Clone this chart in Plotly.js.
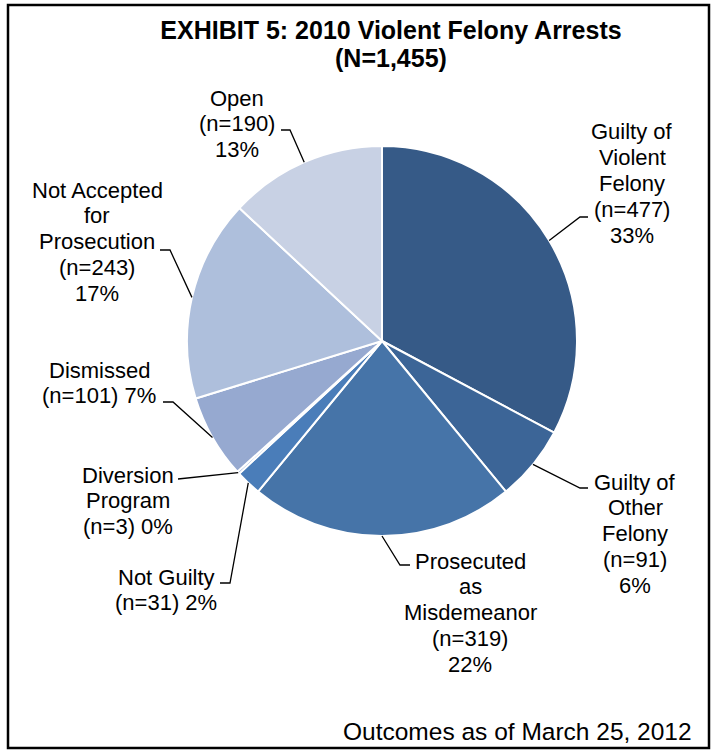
<!DOCTYPE html>
<html>
<head>
<meta charset="utf-8">
<script src="https://cdn.plot.ly/plotly-3.0.1.min.js"></script>
<style>html,body{margin:0;padding:0;background:#fff;}#chart{width:713px;height:750px;}</style>
</head>
<body>
<div id="chart"></div>
<script>
// ---- data ----
const categories = ["Guilty of Violent Felony","Guilty of Other Felony","Prosecuted as Misdemeanor","Not Guilty","Diversion Program","Dismissed","Not Accepted for Prosecution","Open"];
const values = [477, 91, 319, 31, 3, 101, 243, 190];
const nameLines = [["Guilty of","Violent","Felony"],["Guilty of","Other","Felony"],["Prosecuted","as","Misdemeanor"],["Not Guilty"],["Diversion","Program"],["Dismissed"],["Not Accepted","for","Prosecution"],["Open"]];
const joinCountPct = [false,false,false,true,true,true,false,false];
const colors = ["#365A87","#3C6597","#4674A8","#4A7DB9","#7E97C8","#96A9D0","#AEBFDC","#C8D1E4"];
const titleLine1 = "EXHIBIT 5: 2010 Violent Felony Arrests";
const titleLine2 = "(N=1,455)";
const footer = "Outcomes as of March 25, 2012";

// ---- layout constants (pixels) ----
const W = 713, H = 750;
const pieCx = 382, pieCy = 341, pieR = 195;
const labelPos = [[632,132],[635,482],[470,561],[166,577],[128,475],[99,370],[97,190],[237,98]];
const lineGap = 25.8;
const elbows = [
  [[580,217],[588,217]],
  [[580,488],[588,488]],
  [[400,565],[410,565]],
  [[230,583],[220,583]],
  [[178,479]],
  [[173,402],[163,402]],
  [[170,250],[160,250]],
  [[290,130],[281,130]]
];

const px = (x) => x / W;
const py = (y) => 1 - y / H;
const total = values.reduce((a,b)=>a+b,0);
const font = "Liberation Sans, Arial, Helvetica, sans-serif";

const annotations = [];
const shapes = [];

// labels
let cum = 0;
values.forEach((v, i) => {
  const pct = Math.round(v / total * 100);
  const lines = nameLines[i].slice();
  if (joinCountPct[i]) lines.push("(n=" + v + ") " + pct + "%");
  else { lines.push("(n=" + v + ")"); lines.push(pct + "%"); }
  lines.forEach((t, k) => {
    annotations.push({
      text: t, xref: "paper", yref: "paper",
      x: px(labelPos[i][0]), y: py(labelPos[i][1] + k * lineGap),
      xanchor: "center", yanchor: "middle", showarrow: false,
      font: {family: font, size: 22, color: "#000"}
    });
  });
  // leader line from slice edge at mid-angle
  const mid = (cum + v / 2) / total * 2 * Math.PI;
  cum += v;
  const ex = pieCx + pieR * Math.sin(mid);
  const ey = pieCy - pieR * Math.cos(mid);
  let path = "M " + px(ex) + " " + py(ey);
  elbows[i].forEach(p => { path += " L " + px(p[0]) + " " + py(p[1]); });
  shapes.push({type: "path", xref: "paper", yref: "paper", path: path, line: {color: "#000", width: 1.3}});
});

// title line 2 and footer
annotations.push({text: "<b>" + titleLine2 + "</b>", xref: "paper", yref: "paper", x: px(391), y: py(58),
  xanchor: "center", yanchor: "middle", showarrow: false, font: {family: font, size: 25, color: "#000"}});
annotations.push({text: footer, xref: "paper", yref: "paper", x: px(517), y: py(731),
  xanchor: "center", yanchor: "middle", showarrow: false, font: {family: font, size: 24.5, color: "#000"}});

// border
shapes.push({type: "rect", xref: "paper", yref: "paper", x0: px(8), x1: px(709), y0: py(748), y1: py(5),
  line: {color: "#000", width: 2.5}});

const trace = {
  type: "pie",
  labels: categories,
  values: values,
  sort: false,
  direction: "clockwise",
  rotation: 0,
  textinfo: "none",
  hoverinfo: "label+value+percent",
  showlegend: false,
  marker: {colors: colors, line: {color: "#fff", width: 2}},
  domain: {x: [px(pieCx - pieR), px(pieCx + pieR)], y: [py(pieCy + pieR), py(pieCy - pieR)]}
};

const layout = {
  width: W, height: H,
  margin: {l: 0, r: 0, t: 0, b: 0},
  paper_bgcolor: "#fff",
  title: {text: "<b>" + titleLine1 + "</b>", x: px(391), xanchor: "center", xref: "paper",
    y: py(30), yanchor: "middle", yref: "container", font: {family: font, size: 25, color: "#000"}},
  annotations: annotations,
  shapes: shapes
};

Plotly.newPlot("chart", [trace], layout, {staticPlot: true, displayModeBar: false});
</script>
</body>
</html>
